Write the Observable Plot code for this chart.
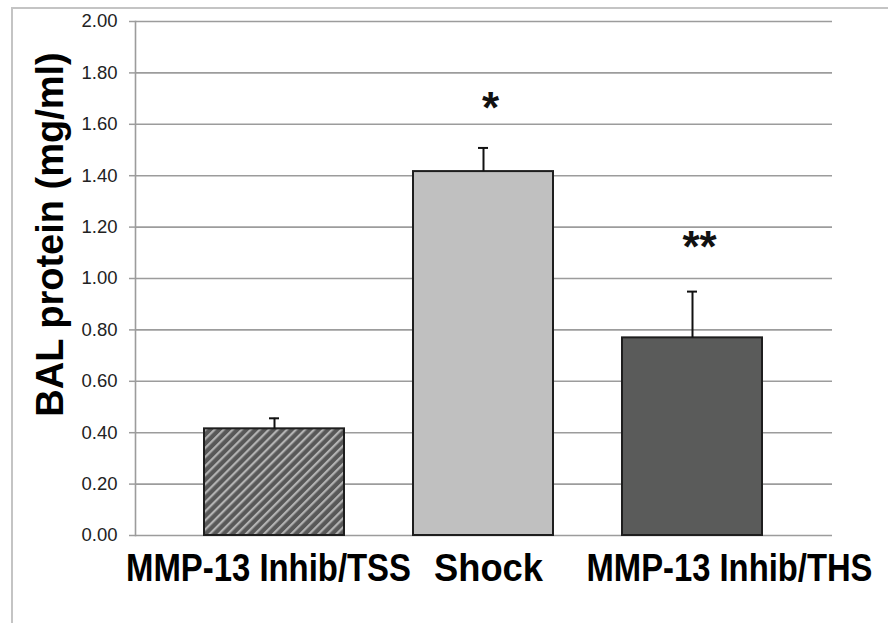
<!DOCTYPE html>
<html>
<head>
<meta charset="utf-8">
<script src="https://cdn.jsdelivr.net/npm/d3@7"></script>
<script src="https://cdn.jsdelivr.net/npm/@observablehq/plot@0.6"></script>
<style>
  html, body { margin: 0; padding: 0; background: #fff; overflow: hidden; }
  #wrap { position: relative; width: 888px; height: 623px; }
  #frame { position: absolute; left: 11px; top: 7px; width: 1000px; height: 800px;
           border-left: 2px solid #c4c4c4; border-top: 2px solid #c4c4c4; pointer-events: none; }
  #chart { position: absolute; left: 0; top: 0; }
</style>
</head>
<body>
<div id="wrap"><div id="frame"></div><div id="chart"></div></div>
<script>
// ---- data ----
const categories = ["MMP-13 Inhib/TSS", "Shock", "MMP-13 Inhib/THS"];
const means = [0.415, 1.416, 0.769];
const errors = [0.041, 0.092, 0.180];
const sigLabels = ["", "*", "**"];
const sigY = [null, 1.605, 1.065];
const yTicks = [0, 0.2, 0.4, 0.6, 0.8, 1.0, 1.2, 1.4, 1.6, 1.8, 2.0];
const yLabel = "BAL protein (mg/ml)";

const rows = categories.map((c, i) => ({cat: c, mean: means[i], err: errors[i], sig: sigLabels[i], sigY: sigY[i]}));
const fills = {"MMP-13 Inhib/TSS": "url(#hatch)", "Shock": "#c0c0c0", "MMP-13 Inhib/THS": "#5a5b5a"};
// styling only: horizontal nudge and fitted width of each category label
const labelShift = {"MMP-13 Inhib/TSS": -6, "Shock": 5, "MMP-13 Inhib/THS": 37};
const labelFit = {"MMP-13 Inhib/TSS": 285, "Shock": 109, "MMP-13 Inhib/THS": 286};

const plot = Plot.plot({
  width: 888,
  height: 623,
  marginLeft: 135,
  marginRight: 56,
  marginTop: 21,
  marginBottom: 88,
  style: {background: "transparent", fontFamily: "'Liberation Sans', Arial, sans-serif"},
  x: {domain: categories, padding: 0.33, axis: null},
  y: {domain: [0, 2], axis: null},
  marks: [
    Plot.gridY(yTicks, {stroke: "#9c9c9c", strokeOpacity: 1, strokeWidth: 1.6}),
    Plot.axisY(yTicks, {tickFormat: ".2f", tickSize: 6, tickPadding: 12, fontSize: 18.5,
      stroke: "#9c9c9c", strokeWidth: 1.5, color: "#222", fill: "#222"}),
    Plot.frame({anchor: "left", stroke: "#9c9c9c", strokeWidth: 1.6}),
    Plot.barY(rows, {x: "cat", y: "mean", fill: d => fills[d.cat], stroke: "#1e1e1e", strokeWidth: 2}),
    Plot.ruleX(rows, {x: "cat", y1: "mean", y2: d => d.mean + d.err, stroke: "#111", strokeWidth: 2}),
    Plot.tickY(rows, {x: "cat", y: d => d.mean + d.err, stroke: "#111", strokeWidth: 2, insetLeft: 65, insetRight: 65}),
    Plot.text(rows.filter(d => d.sig), {x: "cat", y: "sigY", text: "sig", dx: 7, lineAnchor: "bottom",
      fontSize: 44, fontWeight: "bold", fill: "#111"}),
    ...categories.map(c => Plot.text([c], {x: d => d, frameAnchor: "bottom", dy: 45, dx: labelShift[c],
      lineAnchor: "bottom", fontSize: 39, fontWeight: "bold", fill: "#000",
      render(index, scales, values, dims, context, next) {
        const g = next(index, scales, values, dims, context);
        g.querySelectorAll("text").forEach(t => t.setAttribute("data-fit", labelFit[c]));
        return g;
      }})),
    Plot.text([yLabel], {frameAnchor: "left", dx: -73, dy: -44, rotate: -90, lineAnchor: "bottom",
      textAnchor: "middle", fontSize: 38, fontWeight: "bold", fill: "#000"})
  ]
});

// hatch pattern for the first bar
const ns = "http://www.w3.org/2000/svg";
const defs = document.createElementNS(ns, "defs");
const pat = document.createElementNS(ns, "pattern");
pat.setAttribute("id", "hatch");
pat.setAttribute("patternUnits", "userSpaceOnUse");
pat.setAttribute("width", "6.4");
pat.setAttribute("height", "10");
pat.setAttribute("patternTransform", "rotate(45)");
const bg = document.createElementNS(ns, "rect");
bg.setAttribute("width", "6.4"); bg.setAttribute("height", "10"); bg.setAttribute("fill", "#585858");
const st = document.createElementNS(ns, "rect");
st.setAttribute("width", "2.2"); st.setAttribute("height", "10"); st.setAttribute("fill", "#b3b3b3");
pat.appendChild(bg); pat.appendChild(st); defs.appendChild(pat);
plot.insertBefore(defs, plot.firstChild);

document.getElementById("chart").appendChild(plot);

// condense the category labels horizontally (narrow bold look) around their anchor
plot.querySelectorAll("text[data-fit]").forEach(t => {
  const w = t.getComputedTextLength();
  const sx = +t.getAttribute("data-fit") / w;
  const tr = t.getAttribute("transform") || "";
  t.setAttribute("transform", (tr + ` scale(${sx.toFixed(4)},1)`).trim());
});
</script>
</body>
</html>
